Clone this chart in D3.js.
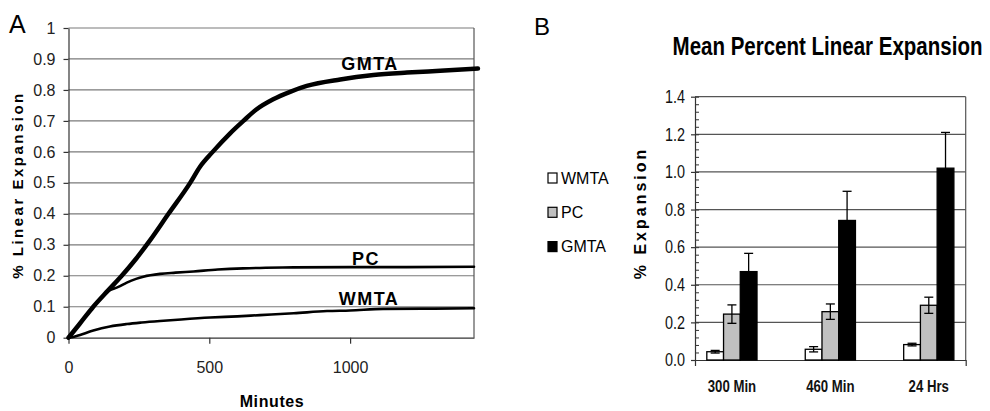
<!DOCTYPE html>
<html>
<head>
<meta charset="utf-8">
<script src="https://cdn.jsdelivr.net/npm/d3@7"></script>
<style>
  body { margin: 0; background: #fff; }
  svg { display: block; font-family: "Liberation Sans", Arial, sans-serif; }
</style>
</head>
<body>
<svg id="chart" width="990" height="411"></svg>
<script>
// panel A - linear expansion curves (minutes vs %)
var minutesGMTA = [0, 40, 88, 140, 189, 240, 290, 355, 432, 467, 512, 574, 621, 667, 727, 787, 846, 965, 1083, 1202, 1320, 1454];
var valuesGMTA  = [0, 0.045, 0.1, 0.152, 0.2, 0.255, 0.315, 0.4, 0.5, 0.552, 0.6, 0.66, 0.7, 0.737, 0.77, 0.794, 0.813, 0.834, 0.848, 0.856, 0.862, 0.869];
var minutesPC = [0, 40, 88, 140, 177, 207, 240, 266, 325, 380, 444, 530, 621, 700, 800, 1000, 1200, 1440];
var valuesPC  = [0, 0.045, 0.1, 0.15, 0.164, 0.178, 0.19, 0.197, 0.206, 0.21, 0.214, 0.22, 0.224, 0.226, 0.227, 0.228, 0.228, 0.229];
var minutesWMTA = [0, 20, 41, 88, 147, 207, 260, 325, 400, 503, 600, 680, 800, 918, 1000, 1117, 1300, 1440];
var valuesWMTA  = [0, 0.003, 0.009, 0.023, 0.036, 0.044, 0.049, 0.054, 0.059, 0.065, 0.069, 0.073, 0.079, 0.086, 0.088, 0.093, 0.094, 0.095];
var xTicksA = [0, 500, 1000];

// panel B - mean percent linear expansion
var categories = ["300 Min", "460 Min", "24 Hrs"];
var seriesNames = ["WMTA", "PC", "GMTA"];
var meanWMTA = [0.044, 0.057, 0.082];
var meanPC   = [0.244, 0.257, 0.291];
var meanGMTA = [0.47, 0.742, 1.02];
var errWMTA = [0.007, 0.014, 0.007];
var errPC   = [0.049, 0.041, 0.043];
var errGMTA = [0.097, 0.155, 0.19];

var narrow = 0.8;   // no Arial Narrow installed, squeeze Liberation Sans instead
var svg = d3.select("#chart");

/* ---------- panel A ---------- */
var xA = d3.scaleLinear().domain([0, 1440]).range([68.5, 474]);
var yA = d3.scaleLinear().domain([0, 1]).range([337.7, 28]);

var gA = svg.append("g");

gA.append("g").selectAll("line")
  .data(yA.ticks(10).filter(function(d) { return d > 0; }))
  .enter().append("line")
  .attr("x1", xA(0)).attr("x2", xA(1440))
  .attr("y1", function(d) { return yA(d); })
  .attr("y2", function(d) { return yA(d); })
  .attr("stroke", "#7a7a7a").attr("stroke-width", 1.2);

gA.append("line")
  .attr("x1", xA(1440)).attr("x2", xA(1440))
  .attr("y1", yA(1)).attr("y2", yA(0))
  .attr("stroke", "#555").attr("stroke-width", 1.2);

var axisYA = gA.append("g")
  .attr("transform", "translate(" + xA(0) + ",0)")
  .call(d3.axisLeft(yA).ticks(10).tickFormat(d3.format("~g")).tickSize(5).tickSizeOuter(0).tickPadding(8));

var axisXA = gA.append("g")
  .attr("transform", "translate(0," + yA(0) + ")")
  .call(d3.axisBottom(xA).tickValues(xTicksA).tickFormat(d3.format("d")).tickSize(6).tickSizeOuter(0).tickPadding(18));

[axisYA, axisXA].forEach(function(ax) {
  ax.selectAll("path, line").attr("stroke", "#333").attr("stroke-width", 1.2);
  ax.selectAll("text").attr("font-size", "16px").attr("fill", "#222")
    .attr("font-family", "Liberation Sans, Arial, sans-serif");
});

var lineA = d3.line()
  .x(function(d) { return xA(d[0]); })
  .y(function(d) { return yA(d[1]); })
  .curve(d3.curveMonotoneX);

var curves = [
  {name: "WMTA", m: minutesWMTA, v: valuesWMTA, w: 2.6},
  {name: "PC", m: minutesPC, v: valuesPC, w: 2.6},
  {name: "GMTA", m: minutesGMTA, v: valuesGMTA, w: 4.5}
];

gA.selectAll(".curve")
  .data(curves)
  .enter().append("path")
  .attr("class", "curve")
  .attr("fill", "none")
  .attr("stroke", "#000")
  .attr("stroke-linejoin", "round")
  .attr("stroke-linecap", "round")
  .attr("stroke-width", function(d) { return d.w; })
  .attr("d", function(d) { return lineA(d3.zip(d.m, d.v)); });

// curve labels
var curveLabels = [
  {t: "GMTA", x: 370, y: 70},
  {t: "PC", x: 366, y: 265},
  {t: "WMTA", x: 369, y: 305}
];
gA.selectAll(".clab")
  .data(curveLabels)
  .enter().append("text")
  .attr("x", function(d) { return d.x; })
  .attr("y", function(d) { return d.y; })
  .attr("text-anchor", "middle")
  .attr("font-size", "18px")
  .attr("font-weight", "bold")
  .attr("letter-spacing", "1.5px")
  .text(function(d) { return d.t; });

gA.append("text")
  .attr("x", 272).attr("y", 407)
  .attr("text-anchor", "middle")
  .attr("font-size", "16px").attr("font-weight", "bold")
  .attr("letter-spacing", "0.6px")
  .text("Minutes");

gA.append("text")
  .attr("transform", "translate(17.5,185) rotate(-90)")
  .attr("text-anchor", "middle")
  .attr("dominant-baseline", "central")
  .attr("font-size", "15px").attr("font-weight", "bold")
  .attr("letter-spacing", "2.5px")
  .text("% Linear Expansion");

gA.append("text")
  .attr("x", 9).attr("y", 33)
  .attr("font-size", "25px")
  .text("A");

/* ---------- panel B ---------- */
var x0 = d3.scaleBand().domain(categories).range([695, 965.7]).paddingInner(0.49).paddingOuter(0.12);
var x1 = d3.scaleBand().domain(seriesNames).range([0, x0.bandwidth()]);
var yB = d3.scaleLinear().domain([0, 1.4]).range([360, 96.7]);

var gB = svg.append("g");

gB.append("g").selectAll("line")
  .data(d3.range(1, 8).map(function(i) { return i * 0.2; }))
  .enter().append("line")
  .attr("x1", 695).attr("x2", 965.7)
  .attr("y1", function(d) { return yB(d); })
  .attr("y2", function(d) { return yB(d); })
  .attr("stroke", "#555").attr("stroke-width", 1.2);

gB.append("line")
  .attr("x1", 965.7).attr("x2", 965.7)
  .attr("y1", yB(1.4)).attr("y2", yB(0))
  .attr("stroke", "#555").attr("stroke-width", 1.2);

// minor ticks inside the value axis
gB.append("g")
  .attr("transform", "translate(695,0)")
  .call(d3.axisRight(yB).tickValues(d3.range(0, 36).map(function(i) { return i * 0.04; })).tickSize(4).tickFormat(""))
  .call(function(g) { g.select(".domain").remove(); })
  .selectAll("line").attr("stroke", "#333").attr("stroke-width", 1);

var axisYB = gB.append("g")
  .attr("transform", "translate(695,0)")
  .call(d3.axisLeft(yB).tickValues(d3.range(0, 8).map(function(i) { return i * 0.2; }))
    .tickFormat(d3.format(".1f")).tickSize(4).tickSizeOuter(0).tickPadding(6));

var axisXB = gB.append("g")
  .attr("transform", "translate(0,360)")
  .call(d3.axisBottom(x0).tickSize(0).tickSizeOuter(6).tickPadding(20));

[axisYB, axisXB].forEach(function(ax) {
  ax.selectAll("path, line").attr("stroke", "#333").attr("stroke-width", 1.2);
  ax.selectAll("text").attr("fill", "#111")
    .attr("font-family", "Liberation Sans, Arial, sans-serif");
});
axisYB.selectAll("text").attr("font-size", "18px")
  .attr("x", -10 / narrow)
  .attr("transform", "scale(" + narrow + ",1)");
axisXB.selectAll("text").attr("font-size", "16.5px").attr("font-weight", "bold")
  .attr("transform", "scale(" + narrow + ",1)");

var seriesData = [
  {name: "WMTA", mean: meanWMTA, err: errWMTA, fill: "#fff"},
  {name: "PC", mean: meanPC, err: errPC, fill: "#c0c0c0"},
  {name: "GMTA", mean: meanGMTA, err: errGMTA, fill: "#000"}
];

var bars = [];
seriesData.forEach(function(s) {
  categories.forEach(function(c, i) {
    bars.push({cat: c, series: s.name, mean: s.mean[i], err: s.err[i], fill: s.fill});
  });
});

gB.selectAll(".bar")
  .data(bars)
  .enter().append("rect")
  .attr("class", "bar")
  .attr("x", function(d) { return x0(d.cat) + x1(d.series); })
  .attr("y", function(d) { return yB(d.mean); })
  .attr("width", x1.bandwidth())
  .attr("height", function(d) { return yB(0) - yB(d.mean); })
  .attr("fill", function(d) { return d.fill; })
  .attr("stroke", "#000").attr("stroke-width", 1.3);

var eb = gB.selectAll(".err")
  .data(bars)
  .enter().append("g")
  .attr("class", "err")
  .attr("transform", function(d) { return "translate(" + (x0(d.cat) + x1(d.series) + x1.bandwidth() / 2) + ",0)"; });

eb.append("line")
  .attr("y1", function(d) { return yB(d.mean - d.err); })
  .attr("y2", function(d) { return yB(d.mean + d.err); })
  .attr("stroke", "#000").attr("stroke-width", 1.3);
eb.selectAll(".cap")
  .data(function(d) { return [d.mean - d.err, d.mean + d.err]; })
  .enter().append("line")
  .attr("x1", -4.5).attr("x2", 4.5)
  .attr("y1", function(v) { return yB(v); })
  .attr("y2", function(v) { return yB(v); })
  .attr("stroke", "#000").attr("stroke-width", 1.3);

// legend
var legend = gB.selectAll(".leg")
  .data(seriesData)
  .enter().append("g")
  .attr("class", "leg")
  .attr("transform", function(d, i) { return "translate(548," + (178 + i * 34.3) + ")"; });
legend.append("rect")
  .attr("x", 0).attr("y", -5).attr("width", 9).attr("height", 10)
  .attr("fill", function(d) { return d.fill; })
  .attr("stroke", "#000").attr("stroke-width", 1.2);
legend.append("text")
  .attr("x", 13).attr("y", 0).attr("dy", "0.36em")
  .attr("font-size", "16px")
  .text(function(d) { return d.name; });

gB.append("text")
  .attr("transform", "translate(827.5,55) scale(0.82,1)")
  .attr("text-anchor", "middle")
  .attr("font-size", "25px").attr("font-weight", "bold")
  .text("Mean Percent Linear Expansion");

gB.append("text")
  .attr("transform", "translate(640,213) rotate(-90)")
  .attr("text-anchor", "middle")
  .attr("dominant-baseline", "central")
  .attr("font-size", "16px").attr("font-weight", "bold")
  .attr("letter-spacing", "3px")
  .text("% Expansion");

gB.append("text")
  .attr("x", 534).attr("y", 35)
  .attr("font-size", "24px")
  .text("B");
</script>
</body>
</html>
